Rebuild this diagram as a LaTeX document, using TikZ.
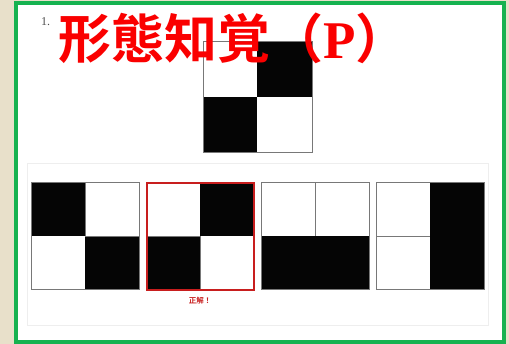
\documentclass[tikz,border=0pt]{standalone}
\usepackage{fontspec}
\setmainfont{Liberation Serif}
\newfontfamily\cjk{Noto Sans CJK JP}
\newfontfamily\cjkb{Noto Sans CJK JP Bold}
\definecolor{beige}{RGB}{232,224,202}
\definecolor{frame}{RGB}{22,178,80}
\definecolor{panel}{RGB}{238,238,238}
\definecolor{sqline}{RGB}{120,120,120}
\definecolor{ttlred}{RGB}{250,0,0}
\definecolor{ansred}{RGB}{200,30,30}
\tikzset{
  blk/.style={fill=black!98,draw=none},
  sqframe/.style={draw=sqline,line width=1pt},
}
\begin{document}
\begin{tikzpicture}[x=1pt,y=-1pt]
\useasboundingbox (0,0) rectangle (509,344);
\fill[beige] (0,0) rectangle (509,344);
\fill[white] (16,3.5) rectangle (504,342.5);
\draw[frame,line width=4pt] (16,3.5) rectangle (504,342.5);
% answer panel
\draw[panel,line width=1pt] (27,164) rectangle (488,326);
% number
\node[anchor=west,text=black!70,font=\fontsize{12}{13}\selectfont,inner sep=0pt] (num) at (41,22) {1.};
% question square
\fill[blk] (257,42) rectangle (312,97);
\fill[blk] (203,97) rectangle (257,153);
\draw[sqframe] (203,42) rectangle (312,153);
% options
% 1
\fill[blk] (31,183) rectangle (85,236);
\fill[blk] (85,236) rectangle (139,290);
\draw[sqframe] (31,183) rectangle (139,290);
\draw[sqline,line width=0.8pt] (85,236) -- (139,236);
\draw[sqline,line width=0.8pt] (85,183) -- (85,236);
% 2
\fill[blk] (200,183) rectangle (254,236);
\fill[blk] (147,236) rectangle (200,290);
\draw[sqline,line width=0.8pt] (147,236) -- (200,236);
\draw[sqline,line width=0.8pt] (200,236) -- (200,290);
\draw[ansred,line width=1.6pt] (147,183) rectangle (254,290);
% 3
\fill[blk] (261,236) rectangle (369,290);
\draw[sqframe] (261,183) rectangle (369,290);
\draw[sqline,line width=0.8pt] (315,183) -- (315,236);
% 4
\fill[blk] (430,183) rectangle (484,290);
\draw[sqframe] (376,183) rectangle (484,290);
\draw[sqline,line width=0.8pt] (376,236) -- (430,236);
% correct label
\node[text=ansred,font=\cjkb\fontsize{7.5}{8}\selectfont,inner sep=0pt] (ok) at (200,301) {正解！};
% title
\node[anchor=west,text=ttlred,inner sep=0pt] (title) at (58,38.5)
  {\cjkb\fontsize{53}{55}\selectfont 形態知覚（\textbf{\rmfamily P}）};
\end{tikzpicture}
\end{document}
